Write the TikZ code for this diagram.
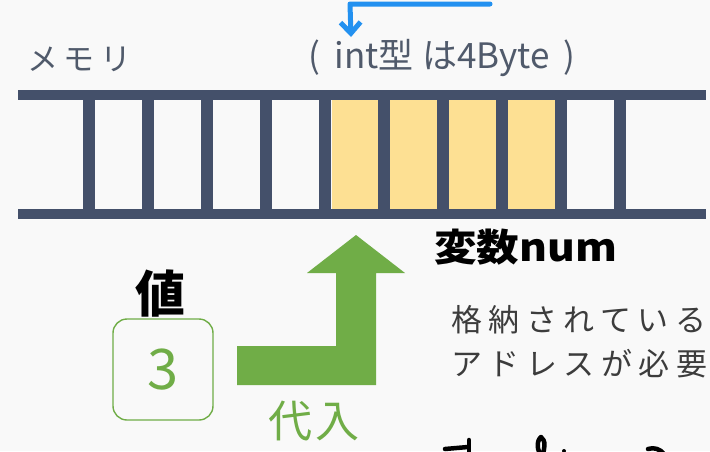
\documentclass[tikz,border=0pt]{standalone}
\usepackage{fontspec}
\setmainfont{Noto Sans CJK JP}
\newfontfamily\jp{Noto Sans CJK JP}
\usetikzlibrary{arrows.meta}
\definecolor{bgc}{HTML}{F9F9F9}
\definecolor{barc}{HTML}{44506A}
\definecolor{cellc}{HTML}{FDE093}
\definecolor{grn}{HTML}{70AD47}
\definecolor{txtc}{HTML}{505A6B}
\definecolor{bodyc}{HTML}{3C3C3C}
\definecolor{blu}{HTML}{2391F0}
\tikzset{
  bar/.style={fill=barc, draw=none},
  cell/.style={fill=cellc, draw=none},
  lbl/.style={inner sep=0pt, text=txtc, font=\jp\fontsize{35}{38}\selectfont},
  body/.style={inner sep=0pt, anchor=west, text=bodyc, font=\jp\fontsize{31}{34}\selectfont\addfontfeatures{LetterSpace=21}},
  hand/.style={inner sep=0pt, text=black, font=\jp\bfseries},
  handstroke/.style={line width=4.5pt, line cap=round, line join=round, black},
}
\begin{document}
\begin{tikzpicture}[x=1pt,y=-1pt]
\useasboundingbox (0,0) rectangle (710,451);
\clip (0,0) rectangle (710,451);
\fill[bgc] (0,0) rectangle (710,451);
% blue connector
\coordinate (b1) at (490,4);
\coordinate (b2) at (350,4);
\coordinate (b3) at (351,37);
\draw[blu, line width=5pt, line cap=round, line join=round, -{Straight Barb[length=11pt,width=20pt]}] (b1) -- (b2) -- (b3);
% labels
\node[lbl, anchor=west, font=\jp\fontsize{31}{34}\selectfont\addfontfeatures{LetterSpace=18}] (mem) at (27,59) {メモリ};
\node[lbl] (intl) at (442,58) {(\hspace{0.4em}int型\hspace{0.25em}は4Byte\hspace{0.4em})};
% memory cells
\fill[cell] (332,100) rectangle (556,209);
\foreach \i in {0,...,9} {
  \fill[bar] ({88.5+59.1*\i-6},100) rectangle ({88.5+59.1*\i+6},210);
}
\fill[bar] (18,90) rectangle (706,100);
\fill[bar] (18,209) rectangle (706,219);
% value box
\node[draw=grn, line width=1.4pt, rounded corners=14pt, minimum width=100pt, minimum height=101pt, inner sep=0pt,
      text=grn, font=\jp\fontsize{56}{60}\selectfont] (val) at (163,369.5) {3};
\node[hand, font=\jp\bfseries\fontsize{50}{54}\selectfont] (atai) at (160,294) {値};
% green elbow arrow
\fill[grn] (237,346) -- (336,346) -- (336,273) -- (307,273) -- (356,235) -- (405,273) -- (376,273) -- (376,385) -- (237,385) -- cycle;
\node[inner sep=0pt, text=grn, font=\jp\fontsize{44}{48}\selectfont\addfontfeatures{LetterSpace=8}] (dainyu) at (314,421) {代入};
% variable label
\node[hand, anchor=west, xscale=1.12, font=\jp\bfseries\fontsize{38}{42}\selectfont] (var) at (434,247) {変数num};
\node[body] (l1) at (451,320) {格納されている};
\node[body] (l2) at (451,364) {アドレスが必要};
% partial handwriting at the bottom edge
\draw[handstroke] (445,449) -- (468,447);
\draw[handstroke] (469,440) -- (469,455);
\draw[handstroke] (541,437) .. controls (536,441) and (537,452) .. (542,455) .. controls (545,450) and (546,440) .. (541,437);
\fill[black] (564,451) circle (2pt);
\draw[handstroke] (648,449) .. controls (654,447) and (660,449) .. (664,454);
\end{tikzpicture}
\end{document}
